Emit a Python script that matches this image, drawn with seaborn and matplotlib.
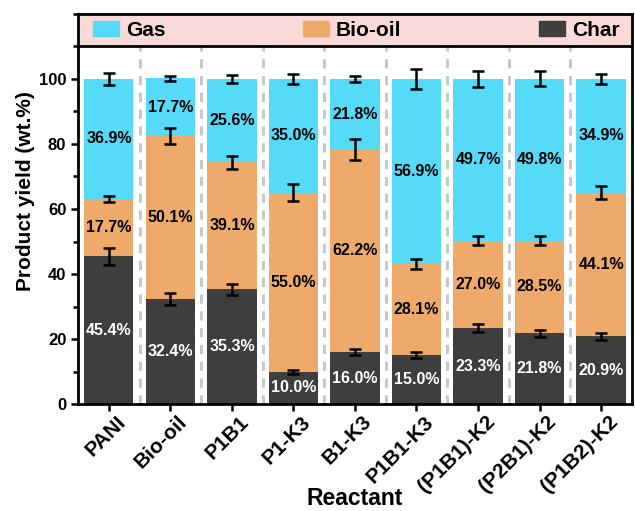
import numpy as np
import pandas as pd
import matplotlib
matplotlib.use('Agg')
import matplotlib.pyplot as plt
import matplotlib.transforms as mtransforms
import seaborn as sns
from matplotlib.patches import Patch
from matplotlib.ticker import MultipleLocator

# 数据
reactants = ['PANI', 'Bio-oil', 'P1B1', 'P1-K3', 'B1-K3', 'P1B1-K3',
             '(P1B1)-K2', '(P2B1)-K2', '(P1B2)-K2']
char = [45.4, 32.4, 35.3, 10.0, 16.0, 15.0, 23.3, 21.8, 20.9]
bio_oil = [17.7, 50.1, 39.1, 55.0, 62.2, 28.1, 27.0, 28.5, 44.1]
gas = [36.9, 17.7, 25.6, 35.0, 21.8, 56.9, 49.7, 49.8, 34.9]
char_err = [2.5, 1.8, 1.8, 0.6, 0.9, 0.9, 1.2, 1.1, 1.1]
oil_err = [0.8, 2.5, 2.0, 2.6, 3.2, 1.4, 1.4, 1.4, 2.0]
gas_err = [1.8, 0.8, 1.2, 1.6, 1.0, 3.0, 2.4, 2.4, 1.5]

C_GAS = '#55DBF8'
C_OIL = '#EDAA6B'
C_CHAR = '#3E3E3E'
C_BAND = '#FAD9D9'

plt.rcParams['font.family'] = ['Liberation Sans', 'DejaVu Sans']
plt.rcParams['font.weight'] = 'bold'

df = pd.DataFrame({'reactant': reactants, 'char': char, 'oil': bio_oil, 'gas': gas})
df['top_char'] = df['char']
df['top_oil'] = df['char'] + df['oil']
df['top_gas'] = df['top_oil'] + df['gas']

fig = plt.figure(figsize=(6.35, 5.11), dpi=100)
ax = fig.add_axes([0.123, 0.209, 0.872, 0.764])

# 分组竖虚线
for i in range(len(reactants) - 1):
    ax.plot([i + 0.5, i + 0.5], [0, 110], color='#C8C8C8', lw=2.2,
            ls=(0, (3, 2.5)), zorder=0)

# 叠加柱
sns.barplot(data=df, x='reactant', y='top_gas', color=C_GAS, width=0.8,
            saturation=1, ax=ax, zorder=2)
sns.barplot(data=df, x='reactant', y='top_oil', color=C_OIL, width=0.8,
            saturation=1, ax=ax, zorder=2)
sns.barplot(data=df, x='reactant', y='top_char', color=C_CHAR, width=0.8,
            saturation=1, ax=ax, zorder=2)

x = np.arange(len(reactants))
for tops, errs in [(df['top_char'], char_err), (df['top_oil'], oil_err),
                   (df['top_gas'], gas_err)]:
    ax.errorbar(x, tops, yerr=errs, fmt='none', ecolor='black', elinewidth=1.8,
                capsize=4.5, capthick=1.8, zorder=5)

# 百分比标注
for i in range(len(reactants)):
    ax.text(i, char[i] / 2, f'{char[i]:.1f}%', ha='center', va='center',
            color='white', fontsize=11.5, fontweight='bold', zorder=6)
    ax.text(i, char[i] + bio_oil[i] / 2, f'{bio_oil[i]:.1f}%', ha='center',
            va='center', color='black', fontsize=11.5, fontweight='bold', zorder=6)
    ax.text(i, char[i] + bio_oil[i] + gas[i] / 2, f'{gas[i]:.1f}%', ha='center',
            va='center', color='black', fontsize=11.5, fontweight='bold', zorder=6)

# 顶部图例条
ax.axhspan(110, 120, color=C_BAND, zorder=1, lw=0)
ax.axhline(110, color='black', lw=2, zorder=7)

ax.set_xlim(-0.5, 8.5)
ax.set_ylim(0, 120)
ax.set_yticks([0, 20, 40, 60, 80, 100])
ax.yaxis.set_minor_locator(MultipleLocator(10))
ax.tick_params(axis='y', which='minor', length=3.5, width=1.8)
ax.tick_params(axis='both', which='major', length=5, width=1.8, labelsize=12)
for lbl in ax.get_yticklabels():
    lbl.set_fontweight('bold')
ax.set_xticks(x)
ax.set_xticklabels(reactants, rotation=45, ha='right', rotation_mode='anchor',
                   fontsize=15, fontweight='bold')
shift = mtransforms.ScaledTranslation(7 / 100, 4 / 100, fig.dpi_scale_trans)
for lbl in ax.get_xticklabels():
    lbl.set_transform(lbl.get_transform() + shift)
ax.set_xlabel('Reactant', fontsize=16.5, fontweight='bold')
ax.xaxis.set_label_coords(0.5, -0.212)
ax.set_ylabel('Product yield (wt.%)', fontsize=15, fontweight='bold')
ax.yaxis.set_label_coords(-0.078, 0.546)
for s in ax.spines.values():
    s.set_linewidth(2)

handles = [Patch(color=C_GAS, label='Gas'), Patch(color=C_OIL, label='Bio-oil'),
           Patch(color=C_CHAR, label='Char')]
leg = ax.legend(handles=handles, ncol=3, loc='center left',
                bbox_to_anchor=(0.027, 115 / 120), frameon=False,
                prop={'size': 15, 'weight': 'bold'}, handlelength=1.25,
                handleheight=0.72, handletextpad=0.33, columnspacing=6.6,
                borderpad=0, borderaxespad=0)
leg.set_zorder(8)

fig.savefig('out.png', dpi=100)
